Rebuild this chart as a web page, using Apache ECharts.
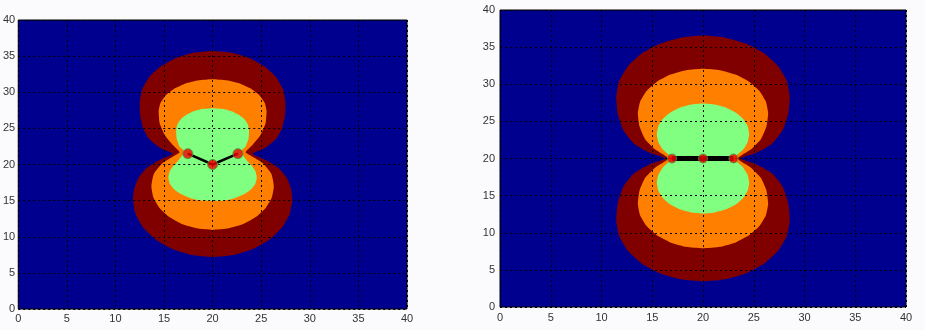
<!DOCTYPE html>
<html>
<head>
<meta charset="utf-8">
<script src="https://cdn.jsdelivr.net/npm/echarts@6/dist/echarts.min.js"></script>
<style>
html,body{margin:0;padding:0;background:#fbfbfd;}
#c{width:925px;height:330px;}
</style>
</head>
<body>
<div id="c"></div>
<script>
// Axis ticks (both panels)
const tickValues = [0, 5, 10, 15, 20, 25, 30, 35, 40];

// ---- Left panel: contour outlines (data coordinates) ----
const leftDarkRed = [
  [15.9,21.5],[14.6,22.3],[13.5,23.5],[12.85,25.0],[12.55,26.8],[12.5,28.6],[12.76,30.44],[13.5,32.15],[14.7,33.62],[16.25,34.75],[18.06,35.46],[20,35.7],
  [21.94,35.46],[23.75,34.75],[25.3,33.62],[26.5,32.15],[27.24,30.44],[27.5,28.6],[27.45,26.8],[27.15,25.0],[26.5,23.5],[25.4,22.3],[24.1,21.5],
  [25.5,20.6],[26.8,19.5],[27.65,18.1],[28.05,16.7],[28.2,15.2],[27.92,13.13],[27.1,11.2],[25.8,9.54],[24.1,8.27],[22.12,7.47],[20,7.2],
  [17.88,7.47],[15.9,8.27],[14.2,9.54],[12.9,11.2],[12.08,13.13],[11.8,15.2],[11.95,16.7],[12.35,18.1],[13.2,19.5],[14.5,20.6]
];
const leftOrange = [
  [16.6,21.7],[15.9,22.7],[15.1,24.0],[14.55,25.7],[14.45,27.4],[14.64,28.54],[15.19,29.6],[16.08,30.51],[17.23,31.21],[18.56,31.65],[20,31.8],
  [21.44,31.65],[22.77,31.21],[23.92,30.51],[24.81,29.6],[25.36,28.54],[25.55,27.4],[25.45,25.7],[24.9,24.0],[24.1,22.7],[23.4,21.7],
  [24.2,21.0],[25.15,20.2],[26.05,18.7],[26.3,17.0],[26.09,15.43],[25.46,13.98],[24.45,12.72],[23.15,11.76],[21.63,11.16],[20,10.95],
  [18.37,11.16],[16.85,11.76],[15.55,12.72],[14.54,13.98],[13.91,15.43],[13.7,17.0],[13.95,18.7],[14.85,20.2],[15.8,21.0]
];
const leftGreen = [
  [17.1,21.8],[16.6,22.5],[16.3,23.6],[16.25,24.8],[16.38,25.58],[16.75,26.3],[17.35,26.92],[18.13,27.4],[19.03,27.7],[20,27.8],
  [20.97,27.7],[21.87,27.4],[22.65,26.92],[23.25,26.3],[23.62,25.58],[23.75,24.8],[23.7,23.6],[23.4,22.5],[22.9,21.8],
  [23.5,20.6],[24.05,19.8],[24.4,19.1],[24.55,18.2],[24.4,17.35],[23.94,16.55],[23.22,15.87],[22.27,15.34],[21.18,15.01],[20,14.95],
  [18.82,15.01],[17.73,15.34],[16.78,15.87],[16.06,16.55],[15.6,17.35],[15.45,18.2],[15.6,19.1],[15.95,19.8],[16.5,20.6]
];
const leftCharges = [[17.45,21.5],[20,20],[22.6,21.5]];

// ---- Right panel: contour outlines (data coordinates) ----
const rightDarkRed = [
  [16.3,20.0],[14.7,20.8],[13.2,22.0],[12.15,23.8],[11.6,26.0],[11.45,28.3],[11.74,30.44],[12.6,32.43],[13.95,34.13],[15.73,35.44],[17.79,36.27],[20,36.55],
  [22.21,36.27],[24.27,35.44],[26.05,34.13],[27.4,32.43],[28.26,30.44],[28.55,28.3],[28.4,26.0],[27.85,23.8],[26.8,22.0],[25.3,20.8],[23.7,20.0],
  [25.3,19.2],[26.8,18.0],[27.85,16.2],[28.4,14.0],[28.55,11.7],[28.26,9.56],[27.4,7.57],[26.05,5.87],[24.27,4.56],[22.21,3.73],[20,3.45],
  [17.79,3.73],[15.73,4.56],[13.95,5.87],[12.6,7.57],[11.74,9.56],[11.45,11.7],[11.6,14.0],[12.15,16.2],[13.2,18.0],[14.7,19.2]
];
const rightOrange = [
  [16.6,20.0],[15.3,21.2],[14.3,22.6],[13.75,24.3],[13.58,26.1],[13.8,27.65],[14.44,29.1],[15.46,30.34],[16.79,31.3],[18.34,31.9],[20,32.1],
  [21.66,31.9],[23.21,31.3],[24.54,30.34],[25.56,29.1],[26.2,27.65],[26.42,26.1],[26.25,24.3],[25.7,22.6],[24.7,21.2],[23.4,20.0],
  [24.7,18.8],[25.7,17.4],[26.25,15.7],[26.42,13.9],[26.2,12.35],[25.56,10.9],[24.54,9.66],[23.21,8.7],[21.66,8.1],[20,7.9],
  [18.34,8.1],[16.79,8.7],[15.46,9.66],[14.44,10.9],[13.8,12.35],[13.58,13.9],[13.75,15.7],[14.3,17.4],[15.3,18.8]
];
const rightGreen = [
  [17.2,20.0],[16.6,20.55],[16.05,21.2],[15.6,22.2],[15.45,23.3],[15.6,24.36],[16.06,25.35],[16.78,26.2],[17.73,26.85],[18.82,27.26],[20,27.4],
  [21.18,27.26],[22.27,26.85],[23.22,26.2],[23.94,25.35],[24.4,24.36],[24.55,23.3],[24.4,22.2],[23.95,21.2],[23.4,20.55],[22.8,20.0],
  [23.4,19.45],[23.95,18.8],[24.4,17.8],[24.55,16.7],[24.4,15.64],[23.94,14.65],[23.22,13.8],[22.27,13.15],[21.18,12.74],[20,12.6],
  [18.82,12.74],[17.73,13.15],[16.78,13.8],[16.06,14.65],[15.6,15.64],[15.45,16.7],[15.6,17.8],[16.05,18.8],[16.6,19.45]
];
const rightCharges = [[16.95,20],[20,20],[23.0,20]];

const NAVY = '#00008f', DARKRED = '#800000', ORANGE = '#ff8000', GREEN = '#80ff80';

function polySeries(pts, color, gi) {
  return {
    type: 'custom', xAxisIndex: gi, yAxisIndex: gi, silent: true, z: 1,
    data: pts,
    encode: { x: 0, y: 1 },
    renderItem: function (params, api) {
      if (params.dataIndex !== 0) return null;
      const points = pts.map(p => api.coord(p));
      return { type: 'polygon', shape: { points: points, smooth: 0.15 }, style: { fill: color } };
    }
  };
}

function axisCommon(gi, margin) {
  return {
    gridIndex: gi, type: 'value', min: tickValues[0], max: tickValues[tickValues.length - 1], interval: 5, z: 5,
    axisLine: { show: false },
    axisTick: { show: false },
    splitLine: { show: true, lineStyle: { color: '#000', type: [2, 3], width: 1 } },
    axisLabel: { color: '#333', fontSize: 11, fontFamily: 'Liberation Sans', margin: margin }
  };
}

const chart = echarts.init(document.getElementById('c'), null, { renderer: 'canvas' });
chart.setOption({
  animation: false,
  backgroundColor: '#fbfbfd',
  grid: [
    { left: 16, top: 20, width: 391, height: 289, show: true, backgroundColor: NAVY, borderColor: '#000', borderWidth: 1 },
    { left: 500, top: 10, width: 406, height: 297, show: true, backgroundColor: NAVY, borderColor: '#000', borderWidth: 1 }
  ],
  xAxis: [axisCommon(0, 4), axisCommon(1, 5)],
  yAxis: [axisCommon(0, 3), axisCommon(1, 5)],
  series: [
    polySeries(leftDarkRed, DARKRED, 0),
    polySeries(leftOrange, ORANGE, 0),
    polySeries(leftGreen, GREEN, 0),
    polySeries(rightDarkRed, DARKRED, 1),
    polySeries(rightOrange, ORANGE, 1),
    polySeries(rightGreen, GREEN, 1),
    { type: 'line', xAxisIndex: 0, yAxisIndex: 0, data: leftCharges, symbol: 'none', z: 8, silent: true,
      lineStyle: { color: '#000', width: 2.5 } },
    { type: 'line', xAxisIndex: 1, yAxisIndex: 1, data: rightCharges, symbol: 'none', z: 8, silent: true,
      lineStyle: { color: '#000', width: 5 } },
    { type: 'scatter', xAxisIndex: 0, yAxisIndex: 0, data: leftCharges, symbolSize: 10, z: 9, silent: true,
      itemStyle: { color: '#f00000', borderColor: '#40a040', borderWidth: 1 } },
    { type: 'scatter', xAxisIndex: 1, yAxisIndex: 1, data: rightCharges, symbolSize: 9, z: 9, silent: true,
      itemStyle: { color: '#f00000', borderColor: '#40a040', borderWidth: 1 } }
  ]
});
</script>
</body>
</html>
